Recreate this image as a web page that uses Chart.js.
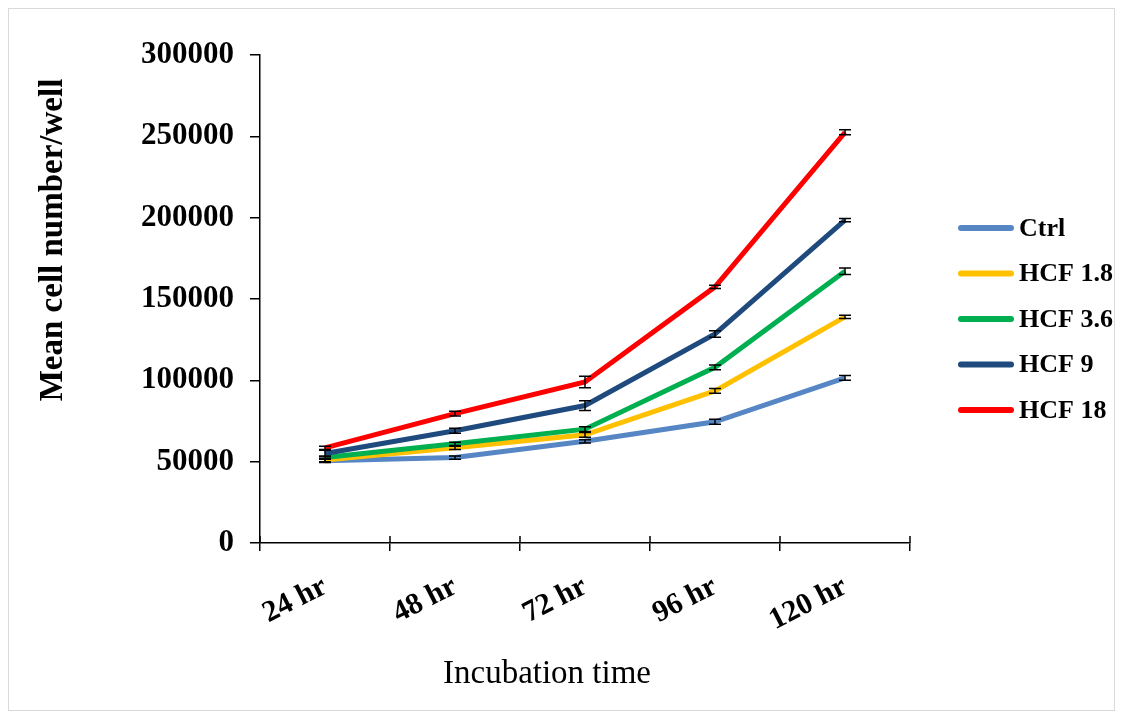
<!DOCTYPE html>
<html>
<head>
<meta charset="utf-8">
<script src="https://cdn.jsdelivr.net/npm/chart.js@4.4.1/dist/chart.umd.min.js"></script>
<style>
html,body{margin:0;padding:0;background:#fff;}
#wrap{position:absolute;left:0;top:0;width:1123px;height:717px;}
</style>
</head>
<body>
<div id="wrap"><canvas id="c" width="1123" height="717"></canvas></div>
<script>
const categories = ['24 hr', '48 hr', '72 hr', '96 hr', '120 hr'];
const seriesNames = ['Ctrl', 'HCF 1.8', 'HCF 3.6', 'HCF 9', 'HCF 18'];
const ctrl   = [50500, 52500, 62500, 74500, 101500];
const hcf1_8 = [51000, 58500, 66500, 93500, 139000];
const hcf3_6 = [52500, 61000, 70000, 108000, 167000];
const hcf9   = [55000, 69000, 84500, 128500, 198500];
const hcf18  = [58500, 79500, 99000, 157500, 252500];
const errCtrl   = [1000, 1000, 1000, 1500, 1500];
const errHcf1_8 = [1000, 1000, 1500, 1500, 1000];
const errHcf3_6 = [1000, 1000, 1500, 1500, 2000];
const errHcf9   = [2000, 1500, 3000, 2000, 1000];
const errHcf18  = [1000, 1500, 3500, 1000, 1500];
const yTicks = [0, 50000, 100000, 150000, 200000, 250000, 300000];
const xTitle = 'Incubation time';
const yTitle = 'Mean cell number/well';

const colors = ['#5686C4', '#FFC000', '#00B050', '#1F4A7D', '#FF0000'];
const values = [ctrl, hcf1_8, hcf3_6, hcf9, hcf18];
const errors = [errCtrl, errHcf1_8, errHcf3_6, errHcf9, errHcf18];

const serif = "'Liberation Serif', 'Times New Roman', serif";

const datasets = values.map((v, i) => ({
  label: seriesNames[i],
  data: v,
  errors: errors[i],
  borderColor: colors[i],
  backgroundColor: colors[i],
  borderWidth: 5,
  pointRadius: 0,
  tension: 0,
  fill: false,
  order: 4 - i
}));

const frame = {
  id: 'frame',
  beforeDraw(chart) {
    const c = chart.ctx;
    c.save();
    c.fillStyle = '#fff';
    c.fillRect(0, 0, chart.width, chart.height);
    c.strokeStyle = '#d9d9d9';
    c.lineWidth = 1;
    c.strokeRect(8.5, 8.5, 1106, 702);
    c.restore();
  }
};

const errorBars = {
  id: 'errorBars',
  afterDatasetsDraw(chart) {
    const c = chart.ctx;
    const ys = chart.scales.y;
    c.save();
    c.strokeStyle = '#000';
    c.lineWidth = 1.5;
    chart.data.datasets.forEach((ds, di) => {
      const meta = chart.getDatasetMeta(di);
      ds.data.forEach((v, i) => {
        const x = meta.data[i].x;
        const e = ds.errors[i];
        const y1 = ys.getPixelForValue(v + e);
        const y2 = ys.getPixelForValue(v - e);
        c.beginPath();
        c.moveTo(x, y1); c.lineTo(x, y2);
        c.moveTo(x - 6, y1); c.lineTo(x + 6, y1);
        c.moveTo(x - 6, y2); c.lineTo(x + 6, y2);
        c.stroke();
      });
    });
    c.restore();
  }
};

const crossTicks = {
  id: 'crossTicks',
  afterDraw(chart) {
    const xs = chart.scales.x;
    const c = chart.ctx;
    const n = chart.data.labels.length;
    const half = (xs.getPixelForValue(1) - xs.getPixelForValue(0)) / 2;
    c.save();
    c.strokeStyle = '#000';
    c.lineWidth = 1.5;
    c.beginPath();
    for (let i = 0; i <= n; i++) {
      const x = xs.getPixelForValue(0) - half + i * 2 * half;
      c.moveTo(x, xs.top);
      c.lineTo(x, xs.top - 7);
    }
    c.stroke();
    c.restore();
  }
};

const titlesAndLegend = {
  id: 'titlesAndLegend',
  afterDraw(chart) {
    const c = chart.ctx;
    c.save();
    c.fillStyle = '#000';
    c.textAlign = 'center';
    c.textBaseline = 'middle';
    c.font = "33px " + serif;
    c.fillText(xTitle, 547, 674);
    c.save();
    c.translate(53, 240);
    c.rotate(-Math.PI / 2);
    c.font = "bold 33px " + serif;
    c.fillText(yTitle, 0, 0);
    c.restore();
    // legend
    c.font = "bold 26px " + serif;
    c.textAlign = 'left';
    chart.data.datasets.forEach((ds, i) => {
      const y = 228 + i * 45.5;
      c.strokeStyle = ds.borderColor;
      c.lineWidth = 6;
      c.lineCap = 'round';
      c.beginPath();
      c.moveTo(961, y);
      c.lineTo(1011, y);
      c.stroke();
      c.fillText(ds.label, 1019, y + 1);
    });
    c.restore();
  }
};

new Chart(document.getElementById('c'), {
  type: 'line',
  data: { labels: categories, datasets },
  plugins: [frame, errorBars, crossTicks, titlesAndLegend],
  options: {
    responsive: false,
    animation: false,
    devicePixelRatio: 1,
    layout: { padding: { left: 8, top: 55, right: 213, bottom: 8 } },
    plugins: {
      tooltip: { enabled: false },
      legend: { display: false }
    },
    scales: {
      x: {
        offset: true,
        grid: { offset: true, drawOnChartArea: false, drawTicks: true, tickLength: 8, color: '#000', lineWidth: 1.5 },
        border: { color: '#000', width: 1.5 },
        ticks: {
          color: '#000',
          font: { family: serif, size: 30, weight: 'bold' },
          maxRotation: 27, minRotation: 27,
          padding: 18
        },
        afterFit(s) { s.height = 166; }
      },
      y: {
        min: 0, max: 300000,
        afterBuildTicks(s) { s.ticks = yTicks.map(v => ({ value: v })); },
        grid: { drawOnChartArea: false, drawTicks: true, tickLength: 10, color: '#000', lineWidth: 1.5 },
        border: { color: '#000', width: 1.5 },
        ticks: {
          color: '#000',
          font: { family: serif, size: 31, weight: 'bold' },
          padding: 16,
          callback: v => String(v)
        },
        afterFit(s) { s.width = 252; }
      }
    }
  }
});
</script>
</body>
</html>
